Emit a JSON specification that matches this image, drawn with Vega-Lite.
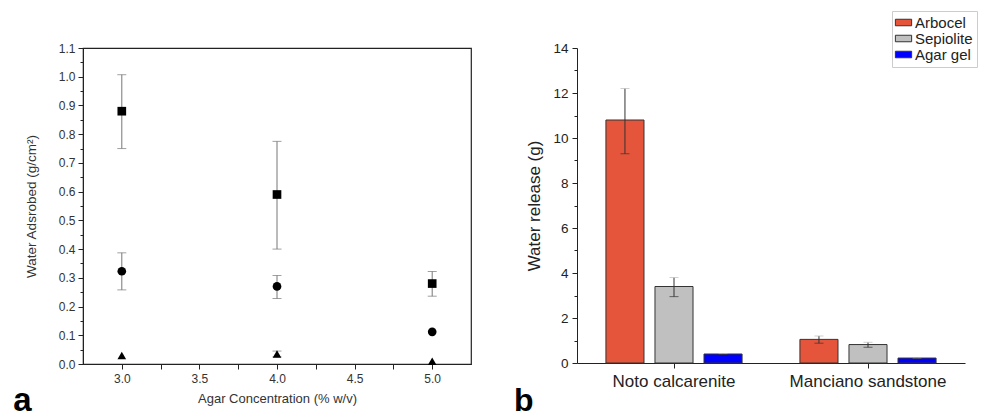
{
  "$schema": "https://vega.github.io/schema/vega-lite/v6.json",
  "padding": {"left": 12, "top": 10, "right": 0, "bottom": 0},
  "background": "white",
  "config": {"font": "Liberation Sans", "view": {"stroke": null}},
  "spacing": 41,
  "resolve": {"legend": {"color": "independent", "shape": "independent"}},
  "hconcat": [
    {
      "width": 388,
      "height": 316,
      "view": {"stroke": "#222", "strokeWidth": 1.2},
      "title": {"text": "a", "orient": "bottom", "anchor": "start", "frame": "bounds", "fontSize": 33, "fontWeight": "bold", "color": "#000", "offset": -20, "dx": -11},
      "data": {"values": [
        {"conc": 3.0, "series": "Square", "value": 0.88, "lo": 0.75, "hi": 1.007},
        {"conc": 4.0, "series": "Square", "value": 0.59, "lo": 0.40, "hi": 0.775},
        {"conc": 5.0, "series": "Square", "value": 0.28, "lo": 0.236, "hi": 0.322},
        {"conc": 3.0, "series": "Circle", "value": 0.323, "lo": 0.258, "hi": 0.387},
        {"conc": 4.0, "series": "Circle", "value": 0.27, "lo": 0.228, "hi": 0.308},
        {"conc": 5.0, "series": "Circle", "value": 0.112, "lo": null, "hi": null},
        {"conc": 3.0, "series": "Triangle", "value": 0.03, "lo": null, "hi": null},
        {"conc": 4.0, "series": "Triangle", "value": 0.035, "lo": 0.025, "hi": 0.045},
        {"conc": 5.0, "series": "Triangle", "value": 0.01, "lo": null, "hi": null}
      ]},
      "encoding": {
        "x": {
          "field": "conc", "type": "quantitative",
          "scale": {"domain": [2.75, 5.25], "nice": false, "zero": false},
          "axis": {
            "title": "Agar Concentration (% w/v)", "titleFontSize": 13, "titleFontWeight": "normal", "titleColor": "#333", "titlePadding": 8,
            "values": [3.0, 3.25, 3.5, 3.75, 4.0, 4.25, 4.5, 4.75, 5.0],
            "labelExpr": "round(datum.value*4) % 2 == 0 ? format(datum.value, '.1f') : ''",
            "labelOverlap": false,
            "labelFontSize": 12, "labelColor": "#333", "grid": false,
            "tickSize": 5, "tickColor": "#222", "domainColor": "#222", "labelPadding": 4
          }
        }
      },
      "layer": [
        {
          "mark": {"type": "rule", "color": "#777", "strokeWidth": 1},
          "encoding": {
            "y": {
              "field": "lo", "type": "quantitative",
              "scale": {"domain": [0, 1.1], "nice": false},
              "axis": {
                "title": "Water Adsrobed (g/cm²)", "titleFontSize": 13.5, "titleFontWeight": "normal", "titleColor": "#333", "titlePadding": 20,
                "values": [0, 0.05, 0.1, 0.15, 0.2, 0.25, 0.3, 0.35, 0.4, 0.45, 0.5, 0.55, 0.6, 0.65, 0.7, 0.75, 0.8, 0.85, 0.9, 0.95, 1.0, 1.05, 1.1],
                "labelExpr": "round(datum.value*100) % 10 == 0 ? format(datum.value, '.1f') : ''",
                "labelOverlap": false,
                "tickSize": {"condition": {"test": "round(datum.value*100) % 10 == 0", "value": 5}, "value": 3},
                "labelFontSize": 12, "labelColor": "#333", "grid": false,
                "tickColor": "#222", "domainColor": "#222", "labelPadding": 3
              }
            },
            "y2": {"field": "hi"}
          }
        },
        {
          "mark": {"type": "tick", "orient": "horizontal", "size": 9, "thickness": 1, "color": "#777"},
          "encoding": {"y": {
              "field": "lo", "type": "quantitative",
              "scale": {"domain": [0, 1.1], "nice": false},
              "axis": {
                "title": "Water Adsrobed (g/cm²)", "titleFontSize": 13.5, "titleFontWeight": "normal", "titleColor": "#333", "titlePadding": 20,
                "values": [0, 0.05, 0.1, 0.15, 0.2, 0.25, 0.3, 0.35, 0.4, 0.45, 0.5, 0.55, 0.6, 0.65, 0.7, 0.75, 0.8, 0.85, 0.9, 0.95, 1.0, 1.05, 1.1],
                "labelExpr": "round(datum.value*100) % 10 == 0 ? format(datum.value, '.1f') : ''",
                "labelOverlap": false,
                "tickSize": {"condition": {"test": "round(datum.value*100) % 10 == 0", "value": 5}, "value": 3},
                "labelFontSize": 12, "labelColor": "#333", "grid": false,
                "tickColor": "#222", "domainColor": "#222", "labelPadding": 3
              }
            }}
        },
        {
          "mark": {"type": "tick", "orient": "horizontal", "size": 9, "thickness": 1, "color": "#777"},
          "encoding": {"y": {
              "field": "hi", "type": "quantitative",
              "scale": {"domain": [0, 1.1], "nice": false},
              "axis": {
                "title": "Water Adsrobed (g/cm²)", "titleFontSize": 13.5, "titleFontWeight": "normal", "titleColor": "#333", "titlePadding": 20,
                "values": [0, 0.05, 0.1, 0.15, 0.2, 0.25, 0.3, 0.35, 0.4, 0.45, 0.5, 0.55, 0.6, 0.65, 0.7, 0.75, 0.8, 0.85, 0.9, 0.95, 1.0, 1.05, 1.1],
                "labelExpr": "round(datum.value*100) % 10 == 0 ? format(datum.value, '.1f') : ''",
                "labelOverlap": false,
                "tickSize": {"condition": {"test": "round(datum.value*100) % 10 == 0", "value": 5}, "value": 3},
                "labelFontSize": 12, "labelColor": "#333", "grid": false,
                "tickColor": "#222", "domainColor": "#222", "labelPadding": 3
              }
            }}
        },
        {
          "mark": {"type": "point", "filled": true, "opacity": 1, "color": "#000", "size": 75},
          "encoding": {
            "y": {
              "field": "value", "type": "quantitative",
              "scale": {"domain": [0, 1.1], "nice": false},
              "axis": {
                "title": "Water Adsrobed (g/cm²)", "titleFontSize": 13.5, "titleFontWeight": "normal", "titleColor": "#333", "titlePadding": 20,
                "values": [0, 0.05, 0.1, 0.15, 0.2, 0.25, 0.3, 0.35, 0.4, 0.45, 0.5, 0.55, 0.6, 0.65, 0.7, 0.75, 0.8, 0.85, 0.9, 0.95, 1.0, 1.05, 1.1],
                "labelExpr": "round(datum.value*100) % 10 == 0 ? format(datum.value, '.1f') : ''",
                "labelOverlap": false,
                "tickSize": {"condition": {"test": "round(datum.value*100) % 10 == 0", "value": 5}, "value": 3},
                "labelFontSize": 12, "labelColor": "#333", "grid": false,
                "tickColor": "#222", "domainColor": "#222", "labelPadding": 3
              }
            },
            "shape": {
              "field": "series", "type": "nominal",
              "scale": {"domain": ["Square", "Circle", "Triangle"], "range": ["square", "circle", "triangle-up"]},
              "legend": null
            }
          }
        }
      ]
    },
    {
      "width": 388,
      "height": 315,
      "title": {"text": "b", "orient": "bottom", "anchor": "start", "frame": "bounds", "fontSize": 32, "fontWeight": "bold", "color": "#000", "offset": -3, "dx": -12},
      "data": {"values": [
        {"site": "Noto calcarenite", "material": "Arbocel", "value": 10.8, "lo": 9.3, "hi": 12.2},
        {"site": "Noto calcarenite", "material": "Sepiolite", "value": 3.4, "lo": 2.95, "hi": 3.8},
        {"site": "Noto calcarenite", "material": "Agar gel", "value": 0.4, "lo": 0.38, "hi": 0.42},
        {"site": "Manciano sandstone", "material": "Arbocel", "value": 1.05, "lo": 0.88, "hi": 1.2},
        {"site": "Manciano sandstone", "material": "Sepiolite", "value": 0.82, "lo": 0.7, "hi": 0.92},
        {"site": "Manciano sandstone", "material": "Agar gel", "value": 0.22, "lo": 0.21, "hi": 0.23}
      ]},
      "encoding": {
        "x": {
          "field": "site", "type": "nominal",
          "sort": ["Noto calcarenite", "Manciano sandstone"],
          "scale": {"paddingInner": 0, "paddingOuter": 0},
          "axis": {
            "title": null, "labelAngle": 0, "labelFontSize": 17, "labelColor": "#222",
            "tickSize": 5, "tickColor": "#222", "domainColor": "#222", "labelPadding": 5
          }
        },
        "xOffset": {
          "field": "material", "type": "nominal",
          "sort": ["Arbocel", "Sepiolite", "Agar gel"],
          "scale": {"paddingInner": 0.224, "paddingOuter": 0.59}
        }
      },
      "layer": [
        {
          "mark": {"type": "bar", "stroke": "#333", "strokeWidth": 1},
          "encoding": {
            "y": {
              "field": "value", "type": "quantitative",
              "scale": {"domain": [0, 14], "nice": false},
              "axis": {
                "title": "Water release (g)", "titleFontSize": 17, "titleFontWeight": "normal", "titleColor": "#222", "titlePadding": 9,
                "values": [0, 1, 2, 3, 4, 5, 6, 7, 8, 9, 10, 11, 12, 13, 14],
                "labelExpr": "datum.value % 2 == 0 ? datum.value : ''",
                "labelOverlap": false,
                "tickSize": {"condition": {"test": "datum.value % 2 == 0", "value": 5}, "value": 3},
                "labelFontSize": 13.5, "labelColor": "#222", "grid": false,
                "tickColor": "#222", "domainColor": "#222", "labelPadding": 4
              }
            },
            "color": {
              "field": "material", "type": "nominal",
              "scale": {"domain": ["Arbocel", "Sepiolite", "Agar gel"], "range": ["#E5553B", "#C0C0C0", "#0000FF"]},
              "legend": {
                "title": null, "orient": "none", "legendX": 315, "legendY": -37,
                "symbolType": "M-1.25,-0.5L1.25,-0.5L1.25,0.5L-1.25,0.5Z", "symbolSize": 169,
                "symbolStrokeColor": "#333", "symbolStrokeWidth": 1, "symbolOpacity": 1,
                "labelFontSize": 15, "labelColor": "#222", "labelOffset": 4,
                "strokeColor": "#ccc", "padding": 4, "rowPadding": 0, "fillColor": "white"
              }
            }
          }
        },
        {
          "mark": {"type": "rule", "color": "#333", "strokeWidth": 1},
          "encoding": {
            "y": {
              "field": "lo", "type": "quantitative",
              "scale": {"domain": [0, 14], "nice": false},
              "axis": {
                "title": "Water release (g)", "titleFontSize": 17, "titleFontWeight": "normal", "titleColor": "#222", "titlePadding": 9,
                "values": [0, 1, 2, 3, 4, 5, 6, 7, 8, 9, 10, 11, 12, 13, 14],
                "labelExpr": "datum.value % 2 == 0 ? datum.value : ''",
                "labelOverlap": false,
                "tickSize": {"condition": {"test": "datum.value % 2 == 0", "value": 5}, "value": 3},
                "labelFontSize": 13.5, "labelColor": "#222", "grid": false,
                "tickColor": "#222", "domainColor": "#222", "labelPadding": 4
              }
            },
            "y2": {"field": "hi"}
          }
        },
        {
          "mark": {"type": "tick", "orient": "horizontal", "size": 9, "thickness": 1, "color": "#333"},
          "encoding": {"y": {
              "field": "lo", "type": "quantitative",
              "scale": {"domain": [0, 14], "nice": false},
              "axis": {
                "title": "Water release (g)", "titleFontSize": 17, "titleFontWeight": "normal", "titleColor": "#222", "titlePadding": 9,
                "values": [0, 1, 2, 3, 4, 5, 6, 7, 8, 9, 10, 11, 12, 13, 14],
                "labelExpr": "datum.value % 2 == 0 ? datum.value : ''",
                "labelOverlap": false,
                "tickSize": {"condition": {"test": "datum.value % 2 == 0", "value": 5}, "value": 3},
                "labelFontSize": 13.5, "labelColor": "#222", "grid": false,
                "tickColor": "#222", "domainColor": "#222", "labelPadding": 4
              }
            }}
        },
        {
          "mark": {"type": "tick", "orient": "horizontal", "size": 9, "thickness": 1, "color": "#bbb"},
          "encoding": {"y": {
              "field": "hi", "type": "quantitative",
              "scale": {"domain": [0, 14], "nice": false},
              "axis": {
                "title": "Water release (g)", "titleFontSize": 17, "titleFontWeight": "normal", "titleColor": "#222", "titlePadding": 9,
                "values": [0, 1, 2, 3, 4, 5, 6, 7, 8, 9, 10, 11, 12, 13, 14],
                "labelExpr": "datum.value % 2 == 0 ? datum.value : ''",
                "labelOverlap": false,
                "tickSize": {"condition": {"test": "datum.value % 2 == 0", "value": 5}, "value": 3},
                "labelFontSize": 13.5, "labelColor": "#222", "grid": false,
                "tickColor": "#222", "domainColor": "#222", "labelPadding": 4
              }
            }}
        }
      ]
    }
  ]
}
